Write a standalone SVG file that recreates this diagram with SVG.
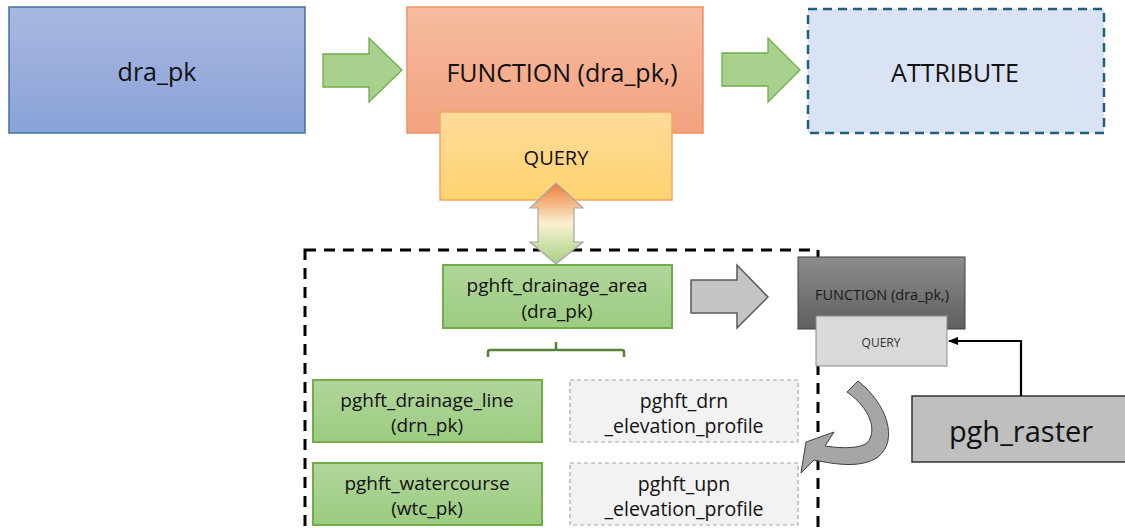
<svg xmlns="http://www.w3.org/2000/svg" width="1125" height="528" viewBox="0 0 1125 528">
<defs>
<linearGradient id="gBlue" x1="0" y1="0" x2="0" y2="1"><stop offset="0" stop-color="#a9b8e0"/><stop offset="1" stop-color="#8aa2d8"/></linearGradient>
<linearGradient id="gOrange" x1="0" y1="0" x2="0" y2="1"><stop offset="0" stop-color="#f6bca0"/><stop offset="1" stop-color="#f3a27f"/></linearGradient>
<linearGradient id="gYellow" x1="0" y1="0" x2="0" y2="1"><stop offset="0" stop-color="#fedb9c"/><stop offset="1" stop-color="#ffd36e"/></linearGradient>
<linearGradient id="gGreen" x1="0" y1="0" x2="0" y2="1"><stop offset="0" stop-color="#b1d59b"/><stop offset="1" stop-color="#9ccc80"/></linearGradient>
<linearGradient id="gDark" x1="0" y1="0" x2="0" y2="1"><stop offset="0" stop-color="#8c8c8c"/><stop offset="1" stop-color="#5f5f5f"/></linearGradient>
<linearGradient id="gDbl" x1="0" y1="0" x2="0" y2="1"><stop offset="0" stop-color="#ee7a3a"/><stop offset="0.5" stop-color="#fbf1d0"/><stop offset="1" stop-color="#a5cf85"/></linearGradient>
<marker id="ah" markerWidth="10" markerHeight="8" refX="9" refY="4" orient="auto" markerUnits="userSpaceOnUse"><path d="M0,0 L10,4 L0,8 Z" fill="#000"/></marker>
<style>
.t{font-family:"Open Sans","Liberation Sans",sans-serif;fill:#111;text-anchor:middle;dominant-baseline:central}
.gbox{fill:url(#gGreen);stroke:#70ad47;stroke-width:2}
.pbox{fill:#f2f2f2;stroke:#a6a6a6;stroke-width:1.2;stroke-dasharray:4 3}
.garrow{fill:#a9d18e;stroke:#70ad47;stroke-width:1.3}
</style>
</defs>

<g id="container">
<rect x="305" y="250" width="513" height="290" fill="none" stroke="#000" stroke-width="3" stroke-dasharray="11 8"/>
</g>

<g id="dra_pk">
<rect x="9" y="7" width="296" height="126" fill="url(#gBlue)" stroke="#41719c" stroke-width="1.5"/>
<text class="t" x="157" y="71" font-size="25">dra_pk</text>
</g>

<g id="function">
<rect x="407" y="7" width="296" height="126" fill="url(#gOrange)" stroke="#f19262" stroke-width="1.5"/>
<text class="t" x="562" y="72" font-size="25">FUNCTION (dra_pk,)</text>
</g>

<g id="query">
<rect x="440" y="112" width="232" height="88" fill="url(#gYellow)" stroke="#f4a860" stroke-width="1.5"/>
<text class="t" x="556" y="157" font-size="20">QUERY</text>
</g>

<g id="attribute">
<rect x="808" y="9" width="296" height="124" fill="#dae3f3" stroke="#1f5f7f" stroke-width="2.5" stroke-dasharray="9 6"/>
<text class="t" x="955" y="72" font-size="25">ATTRIBUTE</text>
</g>

<g id="drainage_area">
<rect class="gbox" x="443" y="265" width="229" height="63"/>
<text class="t" x="557" y="285" font-size="19">pghft_drainage_area</text>
<text class="t" x="557" y="311" font-size="19">(dra_pk)</text>
</g>

<g id="drainage_line">
<rect class="gbox" x="313" y="380" width="229" height="62"/>
<text class="t" x="427" y="400" font-size="19">pghft_drainage_line</text>
<text class="t" x="427" y="425" font-size="19">(drn_pk)</text>
</g>

<g id="drn_profile">
<rect class="pbox" x="570" y="380" width="228" height="62"/>
<text class="t" x="684" y="400" font-size="19.5">pghft_drn</text>
<text class="t" x="684" y="425" font-size="19.5">_elevation_profile</text>
</g>

<g id="watercourse">
<rect class="gbox" x="313" y="463" width="229" height="62"/>
<text class="t" x="427" y="483" font-size="19">pghft_watercourse</text>
<text class="t" x="427" y="508" font-size="19">(wtc_pk)</text>
</g>

<g id="upn_profile">
<rect class="pbox" x="570" y="463" width="228" height="62"/>
<text class="t" x="684" y="483" font-size="19.5">pghft_upn</text>
<text class="t" x="684" y="508" font-size="19.5">_elevation_profile</text>
</g>

<g id="function_gray">
<rect x="798" y="257" width="167" height="72" fill="url(#gDark)" stroke="#404040" stroke-width="1"/>
<text class="t" x="882" y="294" font-size="14.5" style="fill:#1a1a1a">FUNCTION (dra_pk,)</text>
</g>

<g id="query_gray">
<rect x="816" y="316" width="131" height="50" fill="#d9d9d9" stroke="#8c8c8c" stroke-width="1"/>
<text class="t" x="881" y="342" font-size="12" style="fill:#333">QUERY</text>
</g>

<g id="pgh_raster">
<rect x="912" y="396" width="220" height="66" fill="#bfbfbf" stroke="#333" stroke-width="1.5"/>
<text class="t" x="1021" y="430" font-size="29">pgh_raster</text>
</g>

<g id="connectors">
<path class="garrow" d="M323,54 L369,54 L369,38 L402,70 L369,102 L369,87 L323,87 Z"/>
<path class="garrow" d="M722,53 L768,53 L768,38 L800,70 L768,102 L768,86 L722,86 Z"/>
<path d="M556,183 L583,208 L574,208 L574,242 L583,242 L556,264 L530,242 L538,242 L538,208 L530,208 Z" fill="url(#gDbl)" stroke="#a6a6a6" stroke-width="1.2"/>
<path d="M691,280 L737,280 L737,265 L768,297 L737,328 L737,313 L691,313 Z" fill="#c4c4c4" stroke="#595959" stroke-width="1.5"/>
<path d="M488,357 L488,352 Q488,350 490,350 L554,350 Q556,350 556,348 L556,342 M556,348 Q556,350 558,350 L622,350 Q624,350 624,352 L624,357" fill="none" stroke="#548235" stroke-width="2.5"/>
<path d="M1021,396 L1021,341 L949,341" fill="none" stroke="#000" stroke-width="2.2" marker-end="url(#ah)"/>
<path d="M858,381 C887,404 899,440 878,457 C862,468 838,465 814,460 L801,473 L806,442 L834,432 L825,446 C845,449 860,448 867,443 C878,431 870,408 847,392 Z" fill="#a6a6a6" stroke="#404040" stroke-width="1"/>
</g>
</svg>
